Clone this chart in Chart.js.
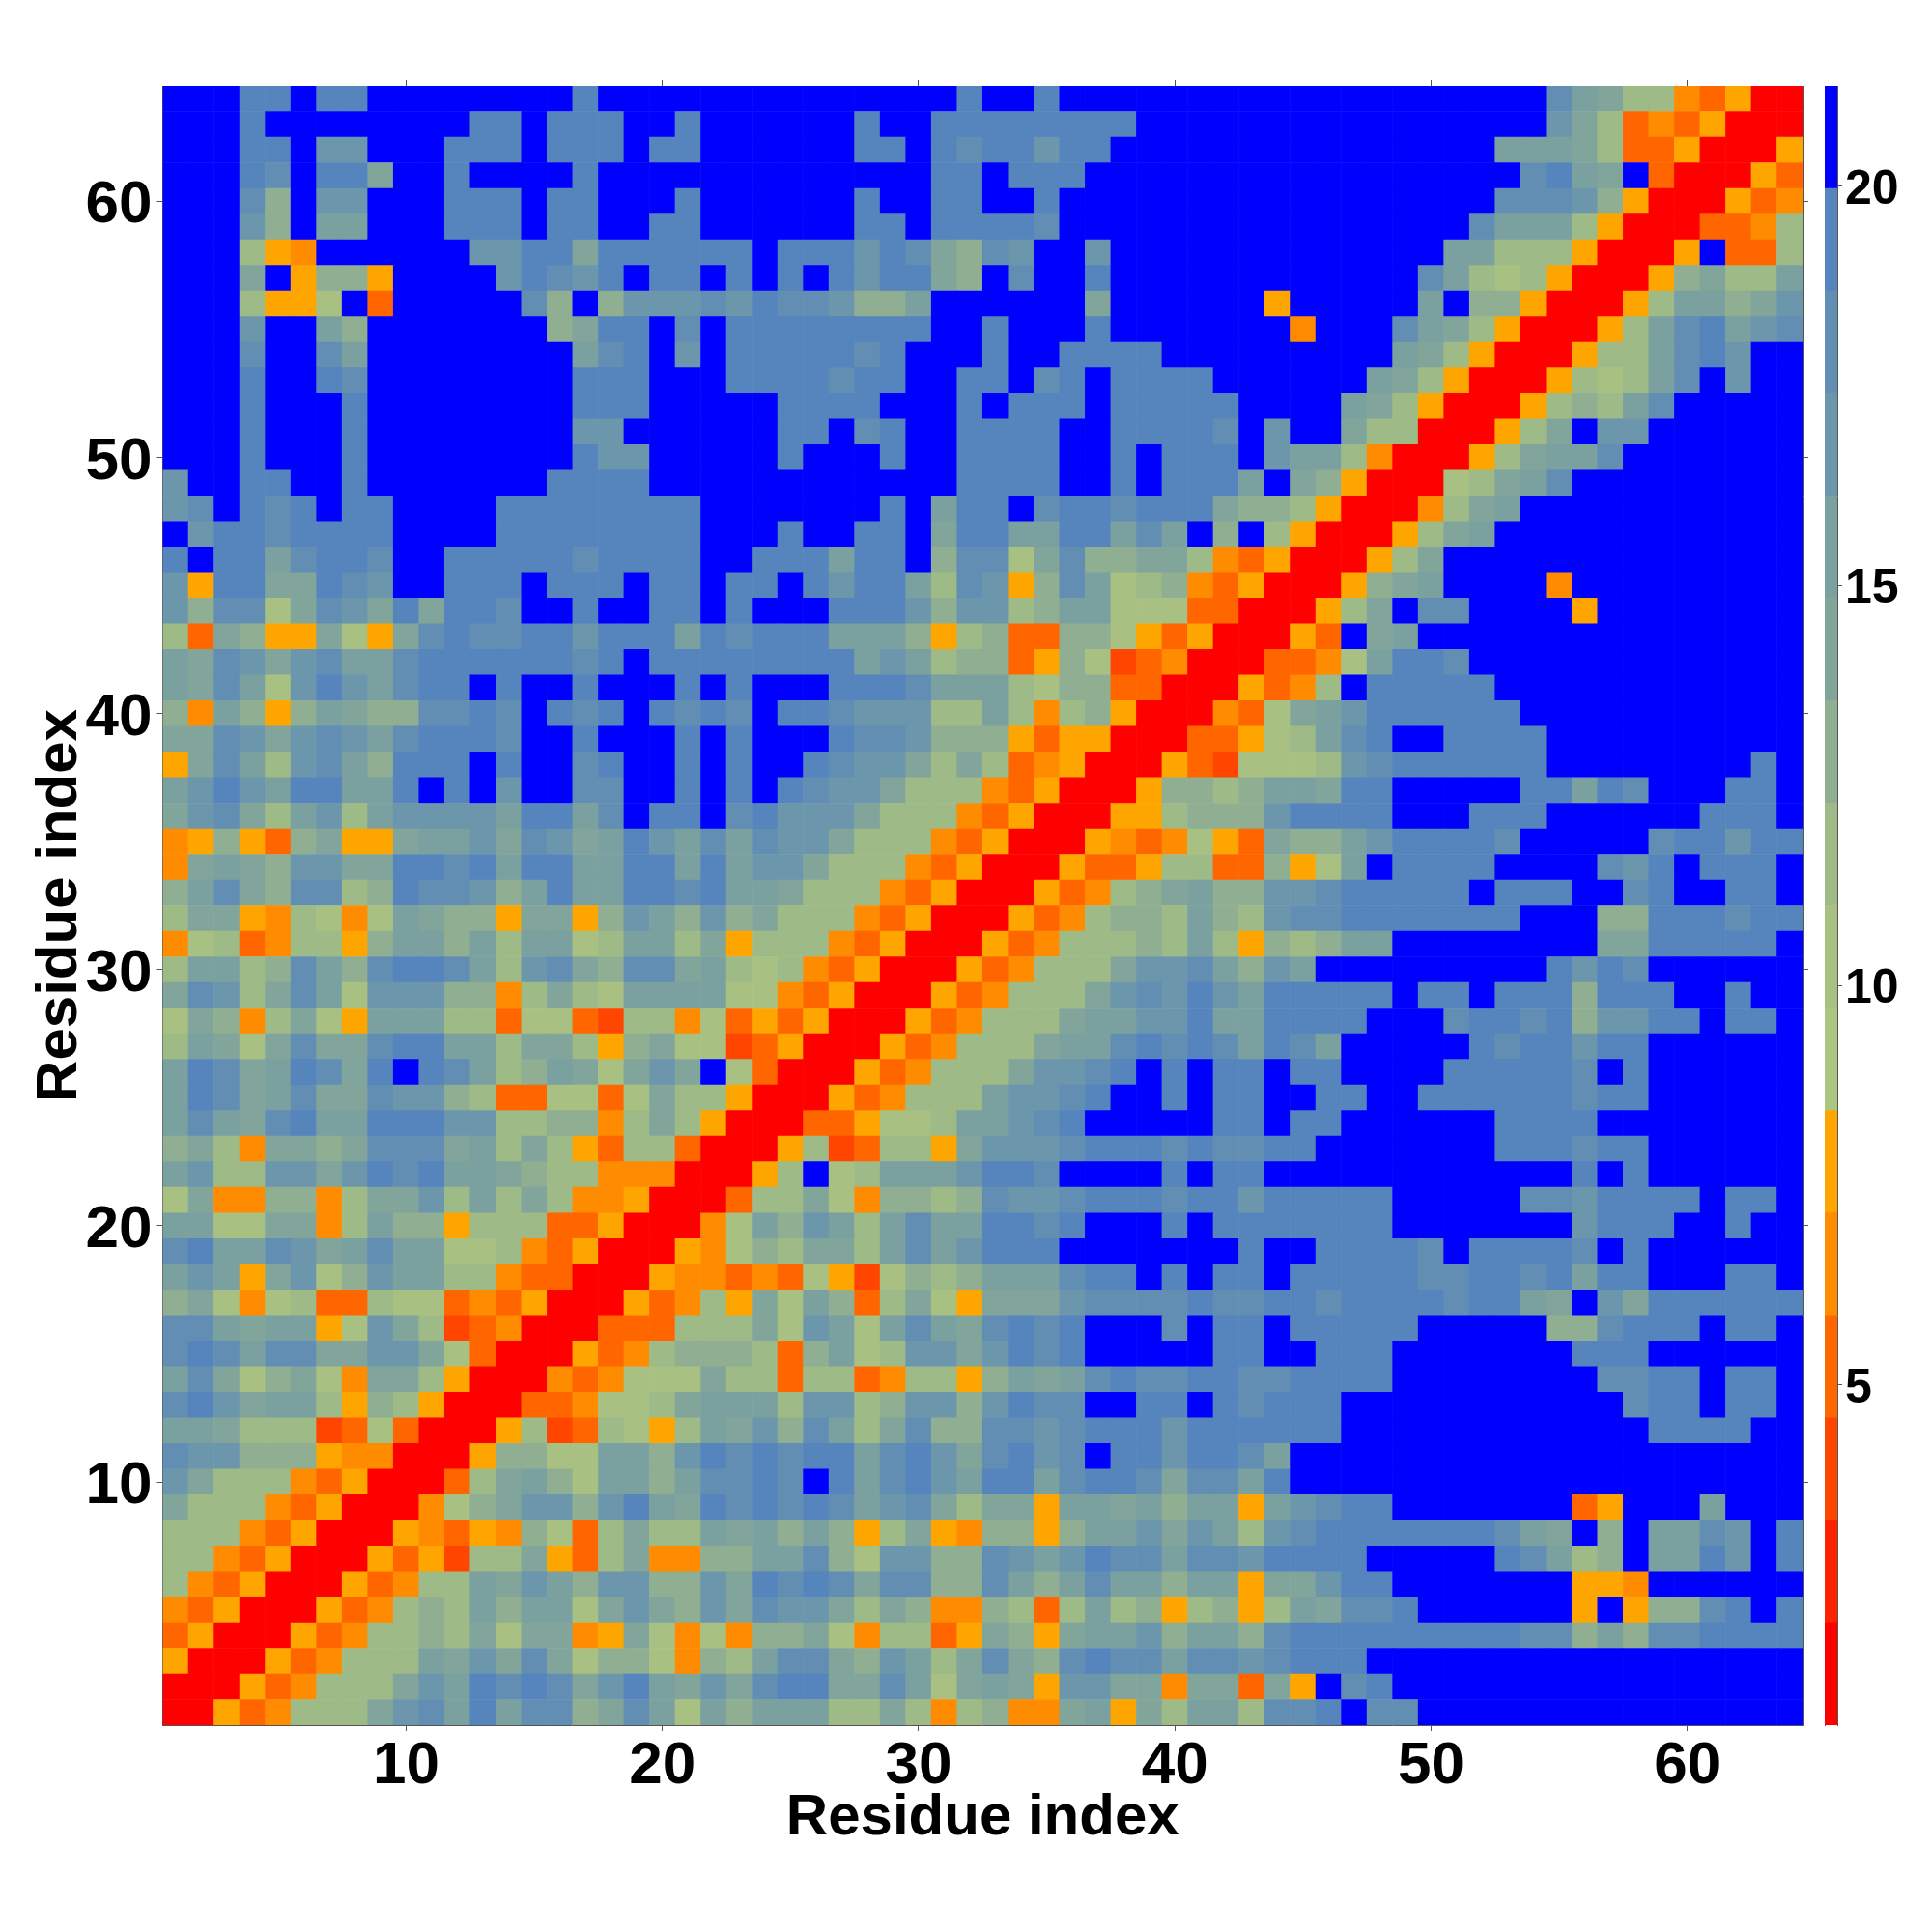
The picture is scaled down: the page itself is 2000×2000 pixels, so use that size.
<!DOCTYPE html>
<html>
<head>
<meta charset="utf-8">
<title>Residue contact map</title>
<script src="https://cdn.jsdelivr.net/npm/chart.js@4"></script>
<style>
  body { margin: 0; background: #fff; }
  canvas { position: absolute; top: 0; }
  #mapChart { left: 0; }
  #barChart { left: 1880px; }
</style>
</head>
<body>
<canvas id="mapChart" width="1880" height="2000" style="width:1880px;height:2000px"></canvas>
<canvas id="barChart" width="120" height="2000" style="width:120px;height:2000px"></canvas>
<script>
const residueTicks = [10, 20, 30, 40, 50, 60];
const colorbarTicks = [5, 10, 15, 20];
const levelEdges = [0.745, 2.027, 3.309, 4.591, 5.873, 7.155, 8.437, 9.719, 11.001, 12.283, 13.565, 14.847, 16.129, 17.411, 18.693, 19.975, 21.257];
const levelColors = ['#ff0000', '#ff2200', '#ff4500', '#ff6600', '#ff8c00', '#ffa500',
  'rgb(172,197,128)', 'rgb(168,193,130)', 'rgb(158,186,135)', 'rgb(143,174,146)', 'rgb(130,165,155)',
  'rgb(122,160,160)', 'rgb(108,150,172)', 'rgb(98,142,180)', 'rgb(85,133,188)', '#0000ff'];

// one hex digit per cell = level in levelEdges, first row is residue 64 (top of the picture)
// residues 1-22
const rowsLeft = [
  'fffeefeeffffffffefffff', 'fffeffffffffeefeeeffef', 'fffeefccfffeeefeeefeef', 'fffedfeeaffeffffefffff',
  'fffd9fccfffeeefeefffef', 'fffc9fbbfffeeefeeffeef', 'fff854ffffffcceeaeeeee', 'fffaf5995ffffcedcefeef',
  'fff8557f3fffffd9f9cccd', 'fffcffb9fffffff9aeefdf', 'fffdffdbffffffffbdefcf', 'fffeffedffffffffeeefff',
  'fffefffeffffffffeeefff', 'fffefffeffffffffccffff', 'fffefffeffffffffeccfff', 'cffeeffefffffffeeeefff',
  'cdfedefeeffffeeeeeeeef', 'fceedeeeeffffeeeeeeeef', 'efeebdeedffeeeeedeeeef', 'c5eeaaedcffeeefeeefeef',
  'c9dd7adcaeaeedffeffeef', '83a955a75adeddeeceeebe', 'badcacdbbdeeeeeedefeee', 'badb7cecbdeefeffefffef',
  '94b959ba99ddedfedefede', 'aadcacdcbdeeedffefffef', '5adb8cdb9eeefeffdeffef', 'bcecbeebbefefcffddffef',
  'acda8bc8bccccbeebdfeef', '459539a55abbcadcabecbd', '4aba9ccaaeedebeebbeebe', '9bda9dd89eddc9bebbeede',
  '8aa548747ba995aa59cb9c', '478348859bb9b8bb78bb8a', '8bb89db9deedb8cda9ddab', 'adc8adb7ccc9948a87bbbb',
  '7a948a75bbb88377328847', '8ba7adaadeebb8aa859a77', 'bedabedaefedb89ba7acaf', 'bedabdaadcc98337737a88',
  'bdbadebbeeecc889948a85', '9a84aa9adddab8a8538830', 'bc88ccacedebba98844400', '7a449948aac8b8a8445000',
  'bb77aa48b9958883350004', 'debbdcabdbb77843500054', 'bcb5ac79cbb88433000544', '9a74783387734350005348',
  'ddbabb57ca823400033388', 'dedbddaacca73000534899', 'bda79a74aa85000434777a', 'decabb85985000334778ab',
  'bba888237300058238758b', 'dcc99954400059977bb9ce', 'ca88843500038ab97bb9bd', 'a888435000479acc9cebae',
  '888435000543549738a88b', '88435000535288a538a449', '843500053488bacb9cc99c', '435000534898b9bb7aca9c',
  '350005348898a7aa45a747', '5000534888bacada799749', '000534888acbededacebac', '00534888acdbebdd9adb7b'
];
// residues 23-43
const rowsMid = [
  'fffffffffeffeffffffff', 'fffffeffeeeeeeeefffff', 'fffffeefedeeceeffffff', 'ffffffffeefeeefffffff',
  'fffffeffeeffeffffffff', 'fffffeefeeeedffffffff', 'efeeeceda9dcffcffffff', 'efefeceea9fdffeffffff',
  'ceddc99bffffffaffffff', 'eeeeeeeeffefffeffffff', 'eeeeedefffeffeeeeffff', 'eeeedeeffeefdefeeeeff',
  'ffeeeefffefeeefeeeeef', 'ffeefdeffeeeeffeeeedf', 'ffefffeffeeeeffefeeef', 'fffffffffeeeeffefeeeb',
  'ffffffefbeefdeedeeea9', 'ffeffeefaeebbeebdbf9f', 'feeebeef9dd7ad99aa843', 'eefeceeb8dc59db789435',
  'efffeeec9cc89bb777330', 'deeebbb95893399753500', 'eeeeebcb8993597234000', 'efffeeedbbb8799330005',
  'dfeedccc88b8489500043', 'efffeddc9995355000335', 'effedcca8a83450005327', 'efedcca88843500059989',
  'deccca888435000558999', 'bdcca8884350005434753', 'bcca88843500053358833', 'bba88843500053489ab99',
  '9a8884350005348998b98', '588843500053488898b85', '878435000534888accdb9', '77435000534888acdcecb',
  '3535000534888abbccebb', '235000534888abbdededb', '73000534888accdefefee', '5000534888bccdeffefee',
  '000335778bbcdefffffee', '005823885acccdeeededd', '058f78bbbceedffffefee', '388a749989dccdeeedeec',
  '7b9cb8bdbbeedefffefee', '798aa8bdbceeefffffffe', '3437527989bbbdeefefee', '5a7b938a75aaacddddedd',
  '8a7cb7bdbadedefffdfee', '9839b78ccacedefffffee', '88388348859babdeddeed', 'bb8cc89cc9ceddffeefed',
  'ac9db8ad99ddcdeeeceee', 'dedeebdecadecdfeeceed', 'dedfebdecbeebdeedaddb', 'dededbcda8aa5bbab9bb5',
  'ab9b958a549959bbcacb8', '9bbd97cc99dcbceddbddc', 'aededadd99db9bdbb9bb5', 'adcca8a9449838b895895',
  '499a748835a95abbc9bb9', '8bdda9cb8ada9deddbddc', 'adeeaadb7aba5ccaa4aa3', '9bbb88a848944ab5a8bb8'
];
// residues 44-64
const rowsRight = [
  'fffffffffffdba8843500', 'fffffffffffca83435000', 'fffffffffbbba83350005', 'ffffffffffdebaf300053',
  'fffffffffdddc95000534', 'ffffffffdbbb850003348', 'fffffffbb88850005f338', 'ffffffdb878500059a88b',
  '5fffffbf99500058bb9ac', 'f4fffdba8500058bdebcd', 'fffffba85000588bdecff', 'ffffba850005878bdfcff',
  'fffba850005898bdfffff', 'cffa8800058afccffffff', 'cbb8400058abbdfffffff', 'fa9500078abdfffffffff',
  '98500048abfffffffffff', '8500058abffffffffffff', '500058affffffffffffff', '00059abffff4fffffffff',
  '0058afddffff5ffffffff', '053fabfffffffffffffff', '3347beedfffffffffffff', '348feeeeeffffffffffff',
  '7abceeeeeefffffffffff', '78bdeffeeeeffffffffff', '778cdeeeeeeffffffffef', 'bbaeefffffeebedfffeef',
  'ceeeefffeeeffffffeeef', 'a99bceeeedfffffdeecee', '957bfeeeeffffdcefeeef', 'ccdeeeeefeeeffdeffeef',
  'cddeeeeeeefff99eeedee', '989bbffffffffaaeeeeef', 'cbfffffffffecedffffff', 'eeeeefeefeee9eeeffeff',
  'eeeefffdeede9cceefeef', 'edbfffffedeeceeffffff', 'feeffffeeeeedfeffffff', 'ffeeffeeeeeedeeffffff',
  'feeffffffeeeeffffffff', 'eefffffffeeedeeffffff', 'ffffffffffffefeffffff', 'eeeeefffffddceeeefeef',
  'eeeeefffffffceeeffeff', 'ffeeeedfeeeedfeffffff', 'feeeeeddeedebeefffeef', 'eedeeeedeebafcaeeeeee',
  'feeeeefffff99deeefeef', 'ffeeefffffffeeeffffff', 'deeeeffffffffddeefeef', 'eeefffffffffffdeefeef',
  'eeeffffffffffffeeeeff', 'bffffffffffffffffffff', 'effffffffffffffffffff', 'bcdeefffffff35fffbfff',
  'cdeeeeeeedbaf9fbbdcfe', 'eeeefffffedb89fbbecfe', 'aaceefffffff554ffffff', '8baddeffffff5f599defe',
  'deeeeeeeeedd9b9ddeeee', 'deeefffffffffffffffff', 'a5fdeffffffffffffffff', 'ddefddfffffffffffffff'
];

const FONT = '"Liberation Sans"';
const AXIS_GREY = '#555';

const cells = [];
rowsLeft.forEach((left, r) => {
  const row = left + rowsMid[r] + rowsRight[r];
  for (let c = 0; c < row.length; c++) {
    const level = parseInt(row[c], 16);
    cells.push({ x: c + 1, y: 64 - r, level: level });
  }
});

function useTicks(list) {
  return scale => { scale.ticks = list.map(v => ({ value: v })); };
}

// an empty first line pushes a y label down by half the line height, the reference labels sit a bit low
function lowLabel(value) {
  return ['', String(value)];
}

function residueAxis(position, size, showLabels, title) {
  const horizontal = position === 'bottom' || position === 'top';
  return {
    type: 'linear',
    position: position,
    min: 0.5,
    max: 64.5,
    afterBuildTicks: useTicks(residueTicks),
    afterFit: scale => {
      if (horizontal) scale.height = size; else scale.width = size;
    },
    border: { color: AXIS_GREY, width: 1 },
    grid: { drawOnChartArea: false, tickLength: 6, tickColor: AXIS_GREY, tickWidth: 1 },
    ticks: {
      display: showLabels,
      color: '#000',
      padding: horizontal ? 0 : 5,
      maxRotation: 0,
      callback: horizontal ? value => String(value) : lowLabel,
      font: { family: FONT, weight: 'bold', size: 62, lineHeight: horizontal ? 1.2 : 0.16 }
    },
    title: title
  };
}

new Chart(document.getElementById('mapChart'), {
  type: 'scatter',
  data: {
    datasets: [{
      data: cells,
      pointStyle: 'rect',
      pointBorderWidth: 0,
      pointRadius: ctx => (ctx.chart.scales.x.width / 64 + 0.6) / Math.SQRT2,
      pointBackgroundColor: ctx => levelColors[ctx.raw.level]
    }]
  },
  options: {
    responsive: false,
    devicePixelRatio: 1,
    animation: false,
    layout: { autoPadding: false },
    plugins: { legend: { display: false }, tooltip: { enabled: false } },
    scales: {
      x: residueAxis('bottom', 214, true, {
        display: true, text: 'Residue index', color: '#000', padding: { top: 0, bottom: 82 },
        font: { family: FONT, weight: 'bold', size: 60 }
      }),
      y: residueAxis('left', 168.5, true, {
        display: true, text: 'Residue index', color: '#000', padding: { top: 26, bottom: 0 },
        font: { family: FONT, weight: 'bold', size: 60 }
      }),
      xTop: residueAxis('top', 89, false),
      yRight: residueAxis('right', 14, false)
    }
  }
});

new Chart(document.getElementById('barChart'), {
  type: 'bar',
  data: {
    labels: [''],
    datasets: levelColors.map((color, i) => ({
      data: [[levelEdges[i], levelEdges[i + 1]]],
      backgroundColor: color,
      borderWidth: 0,
      barPercentage: 1,
      categoryPercentage: 1,
      grouped: false
    }))
  },
  options: {
    responsive: false,
    devicePixelRatio: 1,
    animation: false,
    layout: { autoPadding: false, padding: { left: 9, top: 89, bottom: 214 } },
    plugins: { legend: { display: false }, tooltip: { enabled: false } },
    scales: {
      x: { display: false },
      y: {
        position: 'right',
        min: levelEdges[0],
        max: levelEdges[16],
        afterBuildTicks: useTicks(colorbarTicks),
        afterFit: scale => { scale.width = 98; },
        border: { color: AXIS_GREY, width: 1 },
        grid: { drawOnChartArea: false, tickLength: 5, tickColor: AXIS_GREY, tickWidth: 1 },
        ticks: {
          color: '#000',
          padding: 3,
          callback: lowLabel,
          font: { family: FONT, weight: 'bold', size: 50, lineHeight: 0.16 }
        }
      },
      yLeft: {
        position: 'left',
        min: levelEdges[0],
        max: levelEdges[16],
        afterFit: scale => { scale.width = 0; },
        border: { color: AXIS_GREY, width: 1 },
        grid: { display: false },
        ticks: { display: false }
      }
    }
  }
});
</script>
</body>
</html>
